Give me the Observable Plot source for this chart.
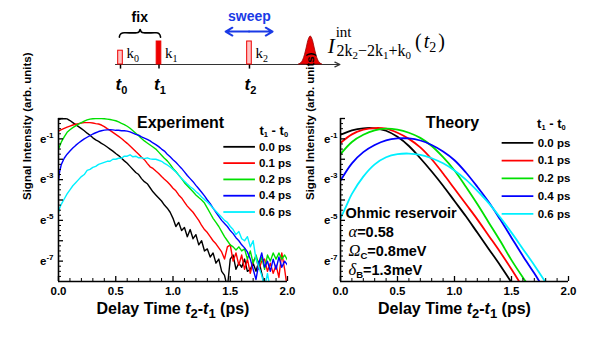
<!DOCTYPE html>
<html><head><meta charset="utf-8">
<script src="https://cdn.jsdelivr.net/npm/d3@7"></script>
<script src="https://cdn.jsdelivr.net/npm/@observablehq/plot@0.6"></script>
<style>
body{margin:0;background:#fff;}
#fig{position:relative;width:600px;height:347px;overflow:hidden;background:#fff;}
#fig > svg{position:absolute;}
</style></head><body><div id="fig"></div>
<script>
// ---------- DATA ----------
const delayLabels = ["0.0 ps","0.1 ps","0.2 ps","0.4 ps","0.6 ps"];
const seriesColors = ["#000000","#ff0000","#00e000","#0000ff","#00f0ff"];

const expBlack = [[0,-0.05],[0.025,-0.01],[0.05,0],[0.075,-0.02],[0.1,-0.1],[0.125,-0.2],[0.15,-0.3],[0.175,-0.4],[0.2,-0.5],[0.225,-0.6],[0.25,-0.72],[0.275,-0.82],[0.3,-0.95],[0.325,-1.05],[0.35,-1.12],[0.375,-1.22],[0.4,-1.3],[0.425,-1.4],[0.45,-1.5],[0.475,-1.6],[0.5,-1.72],[0.525,-1.82],[0.55,-1.95],[0.575,-2.08],[0.6,-2.2],[0.625,-2.35],[0.65,-2.5],[0.675,-2.65],[0.7,-2.75],[0.725,-2.95],[0.75,-3.1],[0.775,-3.2],[0.8,-3.4],[0.825,-3.6],[0.85,-3.75],[0.875,-3.9],[0.9,-4.05],[0.925,-4.25],[0.95,-4.4],[0.975,-4.6],[1.0,-4.9],[1.025,-5.3],[1.05,-5.1],[1.075,-5.5],[1.1,-5.35],[1.125,-5.8],[1.15,-5.45],[1.175,-5.9],[1.2,-5.7],[1.225,-6.2],[1.25,-6.0],[1.275,-6.5],[1.3,-6.4],[1.325,-6.8],[1.35,-6.6],[1.375,-7.1],[1.4,-6.9],[1.425,-7.5],[1.45,-7.7],[1.475,-8.3],[1.5,-6.9],[1.525,-6.7],[1.55,-7.4],[1.575,-7.1],[1.6,-7.3],[1.625,-6.9],[1.65,-7.5],[1.675,-7.4],[1.7,-7.1],[1.725,-7.5],[1.75,-7.0],[1.775,-7.6],[1.8,-8.2],[1.825,-8.5]];
const expRed = [[0,-0.62],[0.025,-0.55],[0.05,-0.48],[0.075,-0.42],[0.1,-0.37],[0.125,-0.32],[0.15,-0.28],[0.175,-0.25],[0.2,-0.22],[0.225,-0.2],[0.25,-0.2],[0.275,-0.2],[0.3,-0.22],[0.325,-0.25],[0.35,-0.27],[0.375,-0.32],[0.4,-0.4],[0.425,-0.5],[0.45,-0.58],[0.475,-0.68],[0.5,-0.78],[0.525,-0.88],[0.55,-0.98],[0.575,-1.1],[0.6,-1.22],[0.625,-1.35],[0.65,-1.48],[0.675,-1.62],[0.7,-1.75],[0.725,-1.9],[0.75,-2.02],[0.775,-2.2],[0.8,-2.37],[0.825,-2.45],[0.85,-2.58],[0.875,-2.7],[0.9,-2.85],[0.925,-2.98],[0.95,-3.1],[0.975,-3.25],[1.0,-3.42],[1.025,-3.55],[1.05,-3.75],[1.075,-3.9],[1.1,-4.1],[1.125,-4.3],[1.15,-4.45],[1.175,-4.6],[1.2,-4.8],[1.225,-5.0],[1.25,-5.25],[1.275,-5.45],[1.3,-5.6],[1.325,-5.8],[1.35,-6.0],[1.375,-6.15],[1.4,-6.35],[1.425,-6.55],[1.45,-6.9],[1.475,-6.3],[1.5,-6.2],[1.525,-7.0],[1.55,-6.6],[1.575,-7.2],[1.6,-6.7],[1.625,-7.4],[1.65,-6.9],[1.675,-7.6],[1.7,-7.0],[1.725,-6.8],[1.75,-7.4],[1.775,-7.0],[1.8,-6.9],[1.825,-7.5],[1.85,-7.1],[1.875,-7.6],[1.9,-7.2],[1.925,-7.8],[1.95,-6.6],[1.975,-7.4],[2.0,-8.4]];
const expGreen = [[0,-1.5],[0.025,-1.15],[0.05,-0.9],[0.075,-0.68],[0.1,-0.55],[0.125,-0.45],[0.15,-0.36],[0.175,-0.28],[0.2,-0.2],[0.225,-0.13],[0.25,-0.07],[0.275,-0.03],[0.3,-0.01],[0.325,0],[0.35,0],[0.375,0],[0.4,-0.01],[0.425,-0.03],[0.45,-0.05],[0.475,-0.08],[0.5,-0.11],[0.525,-0.17],[0.55,-0.24],[0.575,-0.3],[0.6,-0.38],[0.625,-0.48],[0.65,-0.6],[0.675,-0.72],[0.7,-0.85],[0.725,-0.98],[0.75,-1.1],[0.775,-1.2],[0.8,-1.3],[0.825,-1.4],[0.85,-1.5],[0.875,-1.65],[0.9,-1.8],[0.925,-1.95],[0.95,-2.08],[0.975,-2.25],[1.0,-2.45],[1.025,-2.6],[1.05,-2.78],[1.075,-2.95],[1.1,-3.15],[1.125,-3.3],[1.15,-3.45],[1.175,-3.6],[1.2,-3.75],[1.225,-3.88],[1.25,-4.0],[1.275,-4.15],[1.3,-4.4],[1.325,-4.65],[1.35,-4.9],[1.375,-5.1],[1.4,-5.3],[1.425,-5.55],[1.45,-5.8],[1.475,-6.0],[1.5,-6.2],[1.525,-6.3],[1.55,-6.45],[1.575,-6.3],[1.6,-6.5],[1.625,-6.4],[1.65,-6.9],[1.675,-6.5],[1.7,-7.1],[1.725,-6.7],[1.75,-7.2],[1.775,-6.8],[1.8,-7.4],[1.825,-6.7],[1.85,-7.0],[1.875,-6.6],[1.9,-6.9],[1.925,-6.6],[1.95,-6.9],[1.975,-6.7],[2.0,-6.95]];
const expBlue = [[0,-3.05],[0.01,-2.6],[0.025,-2.25],[0.05,-1.95],[0.075,-1.75],[0.1,-1.6],[0.125,-1.45],[0.15,-1.32],[0.175,-1.2],[0.2,-1.1],[0.225,-1.0],[0.25,-0.92],[0.275,-0.84],[0.3,-0.76],[0.325,-0.7],[0.35,-0.64],[0.375,-0.6],[0.4,-0.57],[0.425,-0.56],[0.45,-0.55],[0.475,-0.56],[0.5,-0.58],[0.525,-0.58],[0.55,-0.6],[0.575,-0.6],[0.6,-0.62],[0.625,-0.66],[0.65,-0.72],[0.675,-0.78],[0.7,-0.82],[0.725,-0.9],[0.75,-0.96],[0.775,-1.02],[0.8,-1.1],[0.825,-1.2],[0.85,-1.28],[0.875,-1.38],[0.9,-1.5],[0.925,-1.6],[0.95,-1.75],[0.975,-1.88],[1.0,-2.02],[1.025,-2.15],[1.05,-2.3],[1.075,-2.45],[1.1,-2.62],[1.125,-2.8],[1.15,-2.95],[1.175,-3.1],[1.2,-3.28],[1.225,-3.45],[1.25,-3.62],[1.275,-3.8],[1.3,-4.0],[1.325,-4.18],[1.35,-4.4],[1.375,-4.6],[1.4,-4.8],[1.425,-5.0],[1.45,-5.15],[1.475,-5.3],[1.5,-5.5],[1.525,-5.65],[1.55,-5.85],[1.575,-6.0],[1.6,-6.2],[1.625,-6.35],[1.65,-6.55],[1.675,-6.9],[1.7,-7.4],[1.725,-7.9],[1.75,-7.1],[1.775,-6.6],[1.8,-7.3],[1.825,-7.0],[1.85,-7.5],[1.875,-6.9],[1.9,-7.4],[1.925,-6.8],[1.95,-7.3],[1.975,-7.0],[2.0,-7.2]];
const expCyan = [[0,-4.6],[0.01,-4.4],[0.025,-4.2],[0.05,-3.95],[0.075,-3.7],[0.1,-3.5],[0.125,-3.3],[0.15,-3.15],[0.175,-3.0],[0.2,-2.85],[0.225,-2.75],[0.25,-2.55],[0.275,-2.5],[0.3,-2.4],[0.325,-2.35],[0.35,-2.25],[0.375,-2.2],[0.4,-2.15],[0.425,-2.1],[0.45,-2.1],[0.475,-2.0],[0.5,-2.0],[0.525,-1.95],[0.55,-1.95],[0.575,-1.85],[0.6,-1.85],[0.625,-1.78],[0.65,-1.88],[0.675,-1.85],[0.7,-1.93],[0.725,-1.93],[0.75,-1.97],[0.775,-1.93],[0.8,-1.98],[0.825,-2.0],[0.85,-2.0],[0.875,-2.05],[0.9,-2.1],[0.925,-2.2],[0.95,-2.28],[0.975,-2.38],[1.0,-2.5],[1.025,-2.62],[1.05,-2.78],[1.075,-2.95],[1.1,-3.08],[1.125,-3.22],[1.15,-3.35],[1.175,-3.45],[1.2,-3.58],[1.225,-3.7],[1.25,-3.85],[1.275,-3.98],[1.3,-4.1],[1.325,-4.25],[1.35,-4.4],[1.375,-4.55],[1.4,-4.7],[1.425,-4.85],[1.45,-5.0],[1.475,-5.1],[1.5,-5.3],[1.525,-5.45],[1.55,-5.7],[1.575,-5.55],[1.6,-5.9],[1.625,-6.0],[1.65,-5.8],[1.675,-6.3],[1.7,-6.0],[1.725,-6.9],[1.75,-7.3],[1.775,-7.7],[1.8,-8.3],[1.825,-7.6],[1.85,-8.4],[1.875,-8.6]];

const thBlack = [[0,-0.8],[0.1,-0.58],[0.2,-0.48],[0.3,-0.48],[0.4,-0.6],[0.5,-0.9],[0.6,-1.35],[0.7,-1.95],[0.8,-2.6],[0.9,-3.3],[1.0,-4.05],[1.1,-4.8],[1.2,-5.6],[1.3,-6.4],[1.4,-7.2],[1.5,-8.05],[1.55,-8.5]];
const thRed = [[0,-1.2],[0.1,-0.78],[0.2,-0.55],[0.3,-0.47],[0.4,-0.5],[0.5,-0.7],[0.6,-1.0],[0.7,-1.42],[0.8,-2.0],[0.9,-2.7],[1.0,-3.45],[1.1,-4.2],[1.2,-4.95],[1.3,-5.75],[1.4,-6.55],[1.5,-7.4],[1.6,-8.3]];
const thGreen = [[0,-1.75],[0.1,-1.15],[0.2,-0.8],[0.3,-0.58],[0.4,-0.5],[0.5,-0.55],[0.6,-0.7],[0.7,-0.95],[0.8,-1.35],[0.9,-1.9],[1.0,-2.55],[1.1,-3.35],[1.2,-4.2],[1.3,-5.1],[1.4,-6.0],[1.5,-6.95],[1.6,-7.8],[1.7,-8.6]];
const thBlue = [[0,-3.05],[0.1,-2.2],[0.2,-1.65],[0.3,-1.3],[0.4,-1.07],[0.5,-0.98],[0.6,-0.98],[0.7,-1.08],[0.8,-1.3],[0.9,-1.62],[1.0,-2.05],[1.1,-2.65],[1.2,-3.35],[1.3,-4.1],[1.4,-4.95],[1.5,-5.85],[1.6,-6.75],[1.7,-7.6],[1.8,-8.5]];
const thCyan = [[0,-4.9],[0.05,-4.3],[0.1,-3.7],[0.2,-2.85],[0.3,-2.25],[0.4,-1.9],[0.5,-1.75],[0.6,-1.72],[0.7,-1.78],[0.8,-1.95],[0.9,-2.2],[1.0,-2.55],[1.1,-3.0],[1.2,-3.55],[1.3,-4.15],[1.4,-4.85],[1.5,-5.6],[1.6,-6.4],[1.7,-7.2],[1.8,-8.05],[1.85,-8.5]];

const xTickValues = [0, 0.5, 1, 1.5, 2];
const xMinorTicks = [0.1,0.2,0.3,0.4,0.6,0.7,0.8,0.9,1.1,1.2,1.3,1.4,1.6,1.7,1.8,1.9];
const yTickValues = [-1, -3, -5, -7];
const yMajorTicks = [-7,-6,-5,-4,-3,-2,-1,0];
const yMinorTicks = [-7.75,-7.5,-7.25,-6.75,-6.5,-6.25,-5.75,-5.5,-5.25,-4.75,-4.5,-4.25,-3.75,-3.5,-3.25,-2.75,-2.5,-2.25,-1.75,-1.5,-1.25,-0.75,-0.5,-0.25];
const xAxisLabel = "Delay Time t2-t1 (ps)";
const yAxisLabel = "Signal Intensity (arb. units)";
const legendHeader = "t1 - t0";
const panelTitles = ["Experiment", "Theory"];
const theoryNotes = ["Ohmic reservoir", "α=0.58", "Ωc=0.8meV", "δB=1.3meV"];

// schematic data
const pulseNames = ["k0", "k1", "k2"];
const pulseTimes = [0, 1, 3.35];
const pulseHeights = [0.6, 1, 1];
const timeLabels = ["t0", "t1", "t2"];
const signalTime = 4.94;
const signalShape = [[-0.3,0],[-0.25,0.05],[-0.2,0.165],[-0.15,0.4],[-0.1,0.74],[-0.05,1.08],[0,1.22],[0.05,1.08],[0.1,0.74],[0.15,0.4],[0.2,0.165],[0.25,0.05],[0.3,0]];
const braceShape = [[-0.03,1.19],[-0.01,1.3],[0.05,1.37],[0.12,1.38],[0.42,1.38],[0.48,1.42],[0.51,1.52],[0.54,1.42],[0.6,1.38],[0.9,1.38],[0.97,1.37],[1.02,1.3],[1.04,1.19]];

// ---------- HELPERS ----------
const SANS = "'Liberation Sans', Arial, Helvetica, sans-serif";
const SERIF = "'Liberation Serif', 'Times New Roman', serif";
function toRows(series) {
  return series.flatMap((pts, i) => pts.map(([t, v]) => ({t, v, s: delayLabels[i]})));
}
function rich(svg, match, parts) {
  d3.select(svg).selectAll("text").filter(function () { return this.textContent === match; }).each(function () {
    const t = d3.select(this);
    t.text(null);
    let cur = 0;
    parts.forEach(p => {
      const s = t.append("tspan").text(p.text);
      const off = p.shift || 0;
      if (off !== cur) { s.attr("dy", cur - off); cur = off; }
      if (p.dx) s.attr("dx", p.dx);
      if (p.size) s.attr("font-size", p.size);
      if (p.style) s.attr("font-style", p.style);
      if (p.weight) s.attr("font-weight", p.weight);
      if (p.family) s.attr("font-family", p.family);
    });
  });
}
function richAxes(svg) {
  yTickValues.forEach(v => rich(svg, "e" + v, [{text: "e"}, {text: String(v), size: 8, shift: 5}]));
  rich(svg, xAxisLabel, [{text: "Delay Time "}, {text: "t", style: "italic"}, {text: "2", size: 13, shift: -4}, {text: "-", shift: 0}, {text: "t", style: "italic"}, {text: "1", size: 13, shift: -4}, {text: " (ps)", shift: 0}]);
  rich(svg, legendHeader, [{text: "t"}, {text: "1", size: 7.5, shift: -2}, {text: " - ", shift: 0}, {text: "t"}, {text: "0", size: 7.5, shift: -2}]);
}

const fig = document.getElementById("fig");

// ---------- SCHEMATIC ----------
const unitPx = 38.5, x0Px = 120, y0Px = 64, hPx = 23;
const schem = Plot.plot({
  width: 600, height: 100, margin: 0,
  x: {domain: [-x0Px / unitPx, (600 - x0Px) / unitPx], axis: null},
  y: {domain: [(y0Px - 100) / hPx, y0Px / hPx], axis: null},
  style: {fontFamily: SANS, background: "transparent", overflow: "visible"},
  marks: [
    Plot.arrow([0], {x1: -0.13, x2: 5.7, y1: 0, y2: 0, stroke: "#333", strokeWidth: 1.2, headLength: 7, headAngle: 50}),
    Plot.ruleX(pulseTimes, {y1: 0, y2: -0.2, stroke: "#000", strokeWidth: 1.5}),
    Plot.rect(pulseNames, {x1: (d, i) => pulseTimes[i] - 0.06, x2: (d, i) => pulseTimes[i] + 0.06, y1: 0, y2: (d, i) => pulseHeights[i], fill: d => d === "k1" ? "#ee0000" : "#ffc4c4", stroke: "#ee0000", strokeWidth: 1}),
    Plot.areaY(signalShape, {x: d => signalTime + d[0], y: d => d[1], fill: "#e80000", stroke: "#900", strokeWidth: 0.8, curve: "catmull-rom"}),
    Plot.line(braceShape, {x: d => pulseTimes[0] + d[0] * (pulseTimes[1] - pulseTimes[0]), y: d => d[1], stroke: "#000", strokeWidth: 1.6, curve: "catmull-rom"}),
    Plot.arrow([-1, 1], {x1: pulseTimes[2] - 0.01, x2: d => pulseTimes[2] - 0.01 + d * 0.61, y1: 1.43, y2: 1.43, stroke: "#1a3ae6", strokeWidth: 2, headLength: 6, headAngle: 60}),
    Plot.text(["fix"], {x: (pulseTimes[0] + pulseTimes[1]) / 2, y: 1.84, text: d => d, lineAnchor: "bottom", fontSize: 14, fontWeight: "bold"}),
    Plot.text(["sweep"], {x: pulseTimes[2], y: 1.89, text: d => d, lineAnchor: "bottom", fontSize: 14, fontWeight: "bold", fill: "#1a3ae6"}),
    Plot.text(pulseNames, {x: (d, i) => pulseTimes[i], y: 0.3, dx: 6, text: d => d, textAnchor: "start", lineAnchor: "bottom", fontFamily: SERIF, fontSize: 15}),
    Plot.text(timeLabels, {x: (d, i) => pulseTimes[i], y: -1.09, dx: 1, text: d => d, lineAnchor: "bottom", fontSize: 17, fontWeight: "bold", fontStyle: "italic"}),
    Plot.text(["Iint"], {x: 5.38, y: 0.48, text: d => d, textAnchor: "start", lineAnchor: "bottom", fontFamily: SERIF, fontSize: 21})
  ]
});
pulseNames.forEach(n => rich(schem, n, [{text: "k"}, {text: n.slice(1), size: 10, shift: -4}]));
timeLabels.forEach(n => rich(schem, n, [{text: "t"}, {text: n.slice(1), size: 11, shift: -4, style: "normal"}]));
rich(schem, "Iint", [
  {text: "I", style: "italic"},
  {text: "int", size: 15, shift: 16, dx: 1},
  {text: "2k", size: 16, shift: -3, dx: -15},
  {text: "2", size: 11, shift: -6},
  {text: "−2k", size: 16, shift: -3},
  {text: "1", size: 11, shift: -6},
  {text: "+k", size: 16, shift: -3},
  {text: "0", size: 11, shift: -6},
  {text: "(", size: 20, shift: 5, dx: 4},
  {text: "t", size: 20, style: "italic", shift: 5, dx: 2},
  {text: "2", size: 14, shift: 1},
  {text: ")", size: 20, shift: 5, dx: 2}
]);
schem.style.left = "0px"; schem.style.top = "0px";
fig.appendChild(schem);

// ---------- PANELS ----------
function makePanel(o) {
  const mt = 18, mb = 66;
  const W = 300 - o.ml - o.mr, H = 247 - mt - mb;
  const marks = [
    Plot.line(toRows(o.series), {x: "t", y: "v", z: "s", stroke: "s", strokeWidth: o.lw, curve: o.curve, clip: true}),
    Plot.tickX(xMinorTicks, {x: d => d, insetTop: H - 3, stroke: "#000", strokeWidth: 1}),
    Plot.tickX(xTickValues, {x: d => d, insetTop: H - 5, stroke: "#000", strokeWidth: 1.3}),
    Plot.tickY(yMinorTicks, {y: d => d, insetRight: W - 3, stroke: "#000", strokeWidth: 1}),
    Plot.tickY(yMajorTicks, {y: d => d, insetRight: W - 5, stroke: "#000", strokeWidth: 1.3}),
    Plot.ruleX([0], {stroke: "#000", strokeWidth: 1.6}),
    Plot.ruleY([-8], {stroke: "#000", strokeWidth: 1.6}),
    Plot.axisX({ticks: xTickValues, tickFormat: d => d.toFixed(1), tickSize: 0, tickPadding: 5, fontSize: 11.5, fontWeight: "bold", label: null}),
    Plot.axisY({ticks: yTickValues, tickFormat: d => "e" + d, tickSize: 0, tickPadding: o.ytp, fontSize: 11.5, fontWeight: "bold", label: null}),
    Plot.text([xAxisLabel], {frameAnchor: "bottom", dy: 32, text: d => d, fontSize: 16, fontWeight: "bold"}),
    Plot.text([yAxisLabel], {frameAnchor: "left", rotate: -90, dx: o.ylabDx, text: d => d, fontSize: 11.5, fontWeight: "bold"}),
    Plot.text([o.title], {x: o.titleX, frameAnchor: "top", dy: -2, text: d => d, fontSize: 16, fontWeight: "bold"}),
    Plot.ruleY(delayLabels, {x1: o.leg.x1, x2: o.leg.x2, y: (d, i) => o.leg.y0 + i * o.leg.step, stroke: d => d, strokeWidth: 1.8}),
    Plot.text(delayLabels, {x: o.leg.tx, y: (d, i) => o.leg.y0 + i * o.leg.step, text: d => d, textAnchor: "start", fontSize: 11.5, fontWeight: "bold"}),
    Plot.text([legendHeader], {x: o.leg.hx, y: o.leg.hy, text: d => d, fontSize: 13, fontWeight: "bold"}),
    ...(o.extra || [])
  ];
  const svg = Plot.plot({
    width: 300, height: 247, marginLeft: o.ml, marginRight: o.mr, marginTop: mt, marginBottom: mb,
    x: {domain: [0, 2]}, y: {domain: [-8, 0]},
    color: {domain: delayLabels, range: seriesColors},
    style: {fontFamily: SANS, background: "transparent", overflow: "visible", color: "#000"},
    marks
  });
  richAxes(svg);
  return svg;
}

const left = makePanel({
  series: [expBlack, expRed, expGreen, expBlue, expCyan], lw: 1.4, curve: "linear",
  ml: 58, mr: 13, ytp: 5, ylabDx: -31, title: panelTitles[0], titleX: 1.066,
  leg: {x1: 1.444, x2: 1.72, tx: 1.75, y0: -1.39, step: -0.8, hx: 1.88, hy: -0.62}
});
left.style.left = "0px"; left.style.top = "100px";
fig.appendChild(left);

const noteX = [0.044, 0.07, 0.07, 0.07];
const noteY = [-4.7, -5.62, -6.52, -7.48];
const right = makePanel({
  series: [thBlack, thRed, thGreen, thBlue, thCyan], lw: 1.8, curve: "catmull-rom",
  ml: 40, mr: 32, ytp: 3, ylabDx: -30, title: panelTitles[1], titleX: 0.982,
  leg: {x1: 1.418, x2: 1.696, tx: 1.73, y0: -1.2, step: -0.87, hx: 1.85, hy: -0.25},
  extra: [
    Plot.text(theoryNotes, {x: (d, i) => noteX[i], y: (d, i) => noteY[i], text: d => d, textAnchor: "start", fontSize: 14.5, fontWeight: "bold", lineHeight: 0.9})
  ]
});
rich(right, theoryNotes[1], [{text: "α", family: SERIF, style: "italic", weight: "normal", size: 16.5}, {text: "=0.58"}]);
rich(right, theoryNotes[2], [{text: "Ω", family: SERIF, style: "italic", weight: "normal", size: 16.5}, {text: "C", size: 9.5, shift: -3}, {text: "=0.8meV", shift: 0}]);
rich(right, theoryNotes[3], [{text: "δ", family: SERIF, style: "italic", weight: "normal", size: 16.5}, {text: "B", size: 9.5, shift: -3}, {text: "=1.3meV", shift: 0}]);
right.style.left = "300px"; right.style.top = "100px";
fig.appendChild(right);
</script></body></html>
